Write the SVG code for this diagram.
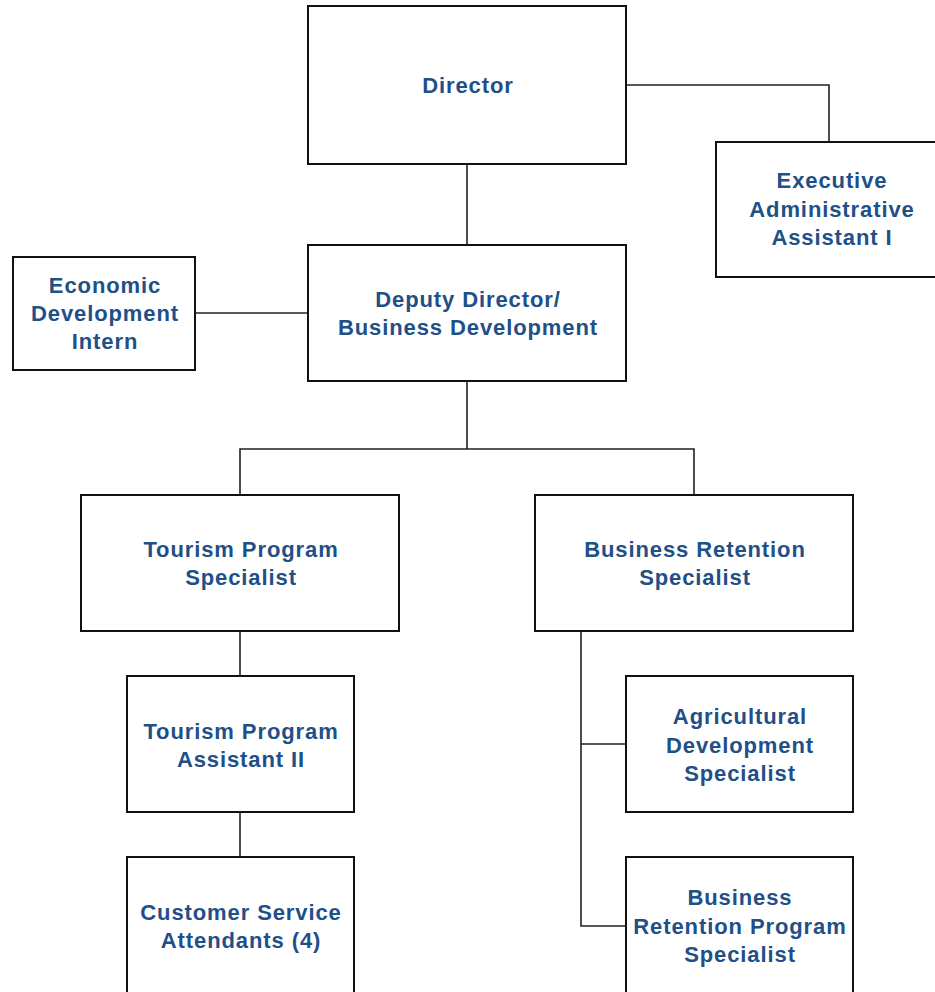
<svg xmlns="http://www.w3.org/2000/svg" width="935" height="992" viewBox="0 0 935 992">
<style>
rect{fill:#fff;stroke:#111;stroke-width:2}
.c path{fill:none;stroke:#222;stroke-width:1.6}
text{font-family:"Liberation Sans",Arial,sans-serif;font-weight:bold;font-size:22px;fill:#214F87;text-anchor:middle;letter-spacing:0.9px}
</style>
<rect x="-10" y="-10" width="955" height="1012" style="stroke:none"/>
<g class="c">
<path d="M467 164V245"/>
<path d="M626 85H829V142"/>
<path d="M195 313H308"/>
<path d="M467 381V449M240 495V449H694V495"/>
<path d="M240 631V676"/>
<path d="M240 812V857"/>
<path d="M581 631V926H626M581 744H626"/>
</g>
<g id="director"><rect x="308" y="6" width="318" height="158"/><text x="468" y="93">Director</text></g>
<g id="exec"><rect x="716" y="142" width="230" height="135"/><text x="832" y="188">Executive</text><text x="832" y="217">Administrative</text><text x="832" y="245">Assistant I</text></g>
<g id="deputy"><rect x="308" y="245" width="318" height="136"/><text x="468" y="307">Deputy Director/</text><text x="468" y="335">Business Development</text></g>
<g id="intern"><rect x="13" y="257" width="182" height="113"/><text x="105" y="293">Economic</text><text x="105" y="321">Development</text><text x="105" y="349">Intern</text></g>
<g id="tps"><rect x="81" y="495" width="318" height="136"/><text x="241" y="557">Tourism Program</text><text x="241" y="585">Specialist</text></g>
<g id="brs"><rect x="535" y="495" width="318" height="136"/><text x="695" y="557">Business Retention</text><text x="695" y="585">Specialist</text></g>
<g id="tpa"><rect x="127" y="676" width="227" height="136"/><text x="241" y="739">Tourism Program</text><text x="241" y="767">Assistant II</text></g>
<g id="ads"><rect x="626" y="676" width="227" height="136"/><text x="740" y="724">Agricultural</text><text x="740" y="753">Development</text><text x="740" y="781">Specialist</text></g>
<g id="csa"><rect x="127" y="857" width="227" height="150"/><text x="241" y="920">Customer Service</text><text x="241" y="948">Attendants (4)</text></g>
<g id="brps"><rect x="626" y="857" width="227" height="150"/><text x="740" y="905">Business</text><text x="740" y="934">Retention Program</text><text x="740" y="962">Specialist</text></g>
</svg>
